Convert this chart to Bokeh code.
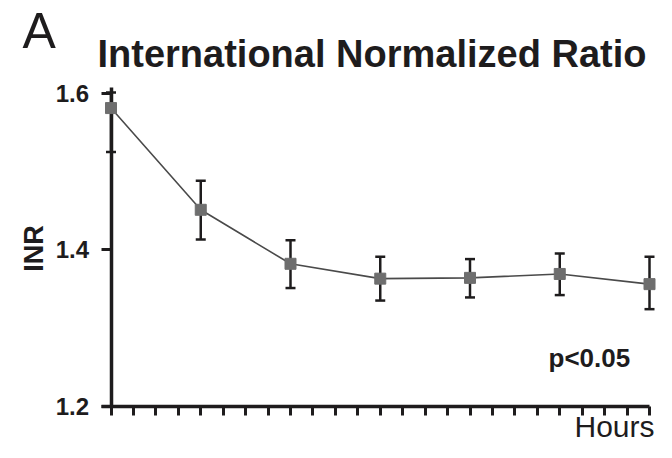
import math
from bokeh.plotting import figure
from bokeh.models import FixedTicker, Label, ColumnDataSource, CustomJSTickFormatter
from bokeh.embed import file_html
from bokeh.resources import INLINE

# ---- data ----
hours = [0, 4, 8, 12, 16, 20, 24]
inr_mean = [1.581, 1.451, 1.382, 1.363, 1.364, 1.369, 1.356]
inr_upper = [1.601, 1.488, 1.412, 1.391, 1.388, 1.395, 1.391]
inr_lower = [1.525, 1.413, 1.351, 1.335, 1.339, 1.342, 1.324]
hour_ticks = list(range(0, 25))
inr_ticks = [1.2, 1.4, 1.6]

title_text = "International Normalized Ratio"
panel_letter = "A"
y_label = "INR"
x_label = "Hours"
p_text = "p<0.05"

# ---- layout (pixel anchors inside the figure) ----
W, H = 656, 442
X0, X24 = 110.5, 649.0     # pixel where hour 0 / hour 24 sit
Y12 = 405.7                # pixel where INR 1.2 sits
sx = (X24 - X0) / 24.0
sy = 782.5

def dx(px):
    return (px - X0) / sx

def dy(py):
    return 1.2 + (Y12 - py) / sy

def mid(baseline_px, size_px):
    # vertical centre of a text line whose baseline sits at baseline_px
    return dy(baseline_px - 0.35 * size_px)

p = figure(width=W, height=H, x_range=(dx(0), dx(W)), y_range=(dy(H), dy(0)),
           output_backend="svg", toolbar_location=None,
           min_border=0, min_border_left=0, min_border_right=0,
           min_border_top=0, min_border_bottom=0)
p.grid.visible = False
p.outline_line_color = None
p.background_fill_color = "white"
p.border_fill_color = "white"

ink = "#1e1c1d"
font = "Liberation Sans"

ya = p.yaxis[0]
ya.fixed_location = 0
ya.bounds = (1.2, dy(87))
ya.ticker = FixedTicker(ticks=inr_ticks)
ya.axis_line_width = 3.5
ya.axis_line_color = ink
ya.major_tick_line_width = 3
ya.major_tick_line_color = ink
ya.major_tick_out = 10
ya.major_tick_in = 0
ya.minor_tick_line_color = None
ya.major_label_standoff = 12
ya.major_label_text_font = font
ya.major_label_text_font_style = "bold"
ya.major_label_text_font_size = "24px"
ya.major_label_text_color = ink
ya.level = "underlay"

xa = p.xaxis[0]
xa.fixed_location = 1.2
xa.bounds = (dx(101), 24)
xa.ticker = FixedTicker(ticks=hour_ticks)
xa.formatter = CustomJSTickFormatter(code="return ''")
xa.axis_line_width = 3.5
xa.axis_line_color = ink
xa.major_tick_line_width = 3
xa.major_tick_line_color = ink
xa.major_tick_out = 9
xa.major_tick_in = 0
xa.minor_tick_line_color = None
xa.level = "underlay"

src = ColumnDataSource(dict(h=hours, m=inr_mean, lo=inr_lower, hi=inr_upper))

p.segment(x0="h", y0="lo", x1="h", y1="hi", source=src, line_width=2.5, line_color=ink)
p.scatter(x="h", y="lo", source=src, marker="dash", size=10, line_width=2.5, line_color=ink)
p.scatter(x="h", y="hi", source=src, marker="dash", size=10, line_width=2.5, line_color=ink)
p.line(x="h", y="m", source=src, line_width=1.6, line_color="#4a4a4a")
p.scatter(x="h", y="m", source=src, marker="square", size=11,
          fill_color="#6e6e6e", line_color="#6e6e6e")

p.add_layout(Label(x=dx(22), y=mid(48.3, 50), text=panel_letter, text_font=font,
                   text_font_size="50px", text_color=ink,
                   text_align="left", text_baseline="middle"))
p.add_layout(Label(x=dx(97), y=mid(66.7, 38), text=title_text, text_font=font,
                   text_font_size="38px", text_font_style="bold", text_color=ink,
                   text_align="left", text_baseline="middle"))
p.add_layout(Label(x=dx(33), y=dy(248), text=y_label, text_font=font, angle=math.pi / 2,
                   text_font_size="27px", text_font_style="bold", text_color=ink,
                   text_align="center", text_baseline="middle"))
p.add_layout(Label(x=dx(548), y=mid(367, 26), text=p_text, text_font=font,
                   text_font_size="26px", text_font_style="bold", text_color=ink,
                   text_align="left", text_baseline="middle"))
p.add_layout(Label(x=dx(654), y=mid(436, 30), text=x_label, text_font=font,
                   text_font_size="30px", text_color=ink,
                   text_align="right", text_baseline="middle"))

open("out.html", "w").write(file_html(p, INLINE))
